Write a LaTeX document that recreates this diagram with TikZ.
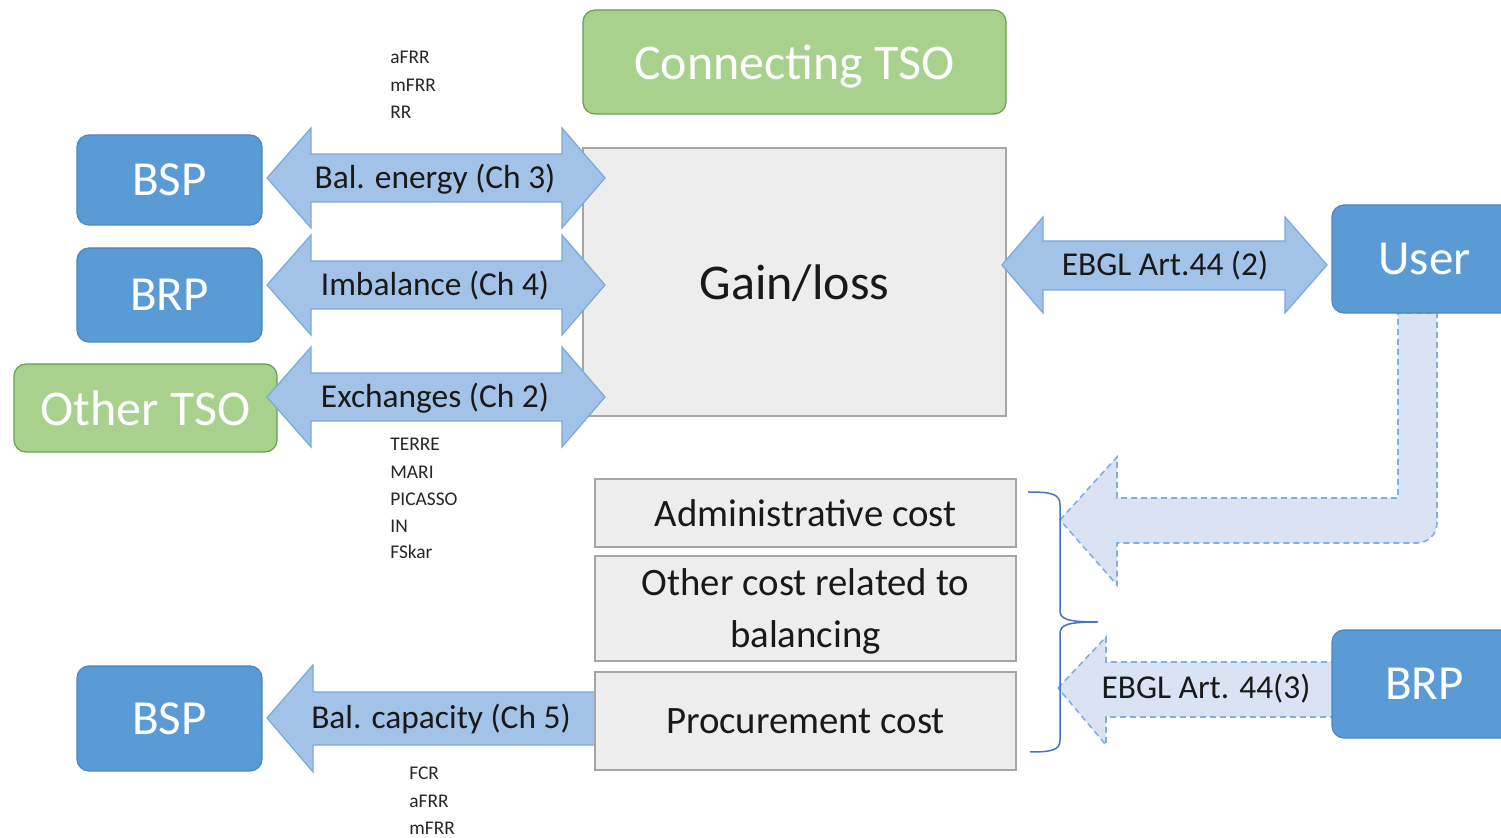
\documentclass[tikz,border=0pt]{standalone}
\usepackage{fontspec}
\setmainfont{Carlito}
\definecolor{boxblue}{HTML}{5B9BD5}
\definecolor{boxblueline}{HTML}{4A86C2}
\definecolor{boxgreen}{HTML}{A9D18E}
\definecolor{boxgreenline}{HTML}{6A9E4A}
\definecolor{boxgray}{HTML}{EDEDED}
\definecolor{grayline}{HTML}{A6A6A6}
\definecolor{arrowblue}{HTML}{A3C2E8}
\definecolor{arrowline}{HTML}{7AA8DB}
\definecolor{lightfill}{HTML}{DAE3F3}
\definecolor{dashline}{HTML}{7FB0E2}
\definecolor{bracecol}{HTML}{4472C4}
\begin{document}
\begin{tikzpicture}[x=0.5pt,y=-0.5pt,
  bluebox/.style={rectangle, rounded corners=6pt, fill=boxblue, draw=boxblueline, line width=0.6pt, text=white, font=\fontsize{24.5}{28}\selectfont},
  greenbox/.style={rectangle, rounded corners=6pt, fill=boxgreen, draw=boxgreenline, line width=0.6pt, text=white, font=\fontsize{25}{28}\selectfont},
  graybox/.style={rectangle, fill=boxgray, draw=grayline, line width=1pt, text=black!90, font=\fontsize{19.4}{26}\selectfont, align=center},
  blockarrow/.style={fill=arrowblue, draw=arrowline, line width=0.6pt},
  dasharrow/.style={fill=lightfill, draw=dashline, line width=0.8pt, dash pattern=on 3pt off 2pt},
  lbl/.style={font=\fontsize{16.7}{20}\selectfont, text=black!90, inner sep=0pt},
  smalltxt/.style={font=\fontsize{9.7}{12}\selectfont, text=black!85, anchor=west, inner sep=0pt},
  bracestyle/.style={draw=bracecol, line width=0.75pt}
]
\useasboundingbox (0,0) rectangle (1501,838);
\fill[white] (0,0) rectangle (1501,838);

% top green box
\node[greenbox, minimum width=211.5pt, minimum height=52pt, text depth=0pt] (ctso) at (794.5,62) {Connecting TSO};

% gain/loss box
\node[graybox, minimum width=211.5pt, minimum height=134pt, font=\fontsize{25}{28}\selectfont, text depth=0pt] (gain) at (794.5,282) {Gain/loss};

% left boxes
\node[bluebox, minimum width=92.5pt, minimum height=45pt] (bsp1) at (169.5,180) {BSP};
\node[bluebox, minimum width=92.5pt, minimum height=47pt] (brp1) at (169.5,295) {BRP};
\node[greenbox, minimum width=131.5pt, minimum height=44pt] (otso) at (145.5,408) {Other TSO};
\node[bluebox, minimum width=92.5pt, minimum height=52.5pt] (bsp2) at (169.5,718.5) {BSP};

% double arrows left
\foreach \c/\t/\n in {178/{Bal. energy (Ch 3)}/a1, 285/{Imbalance (Ch 4)}/a2, 397/{Exchanges (Ch 2)}/a3}{
  \draw[blockarrow] (267,\c) -- (311,\c-50) -- (311,\c-24) -- (562,\c-24) -- (562,\c-50) -- (605,\c)
     -- (562,\c+50) -- (562,\c+24) -- (311,\c+24) -- (311,\c+50) -- cycle;
  \node[lbl] (\n) at (435,\c+1) {\t};
}

% double arrow right (EBGL Art.44 (2))
\draw[blockarrow] (1002,265) -- (1043,217) -- (1043,241) -- (1285,241) -- (1285,217) -- (1327,265)
   -- (1285,313) -- (1285,290) -- (1043,290) -- (1043,313) -- cycle;
\node[lbl] (ebgl2) at (1165,266) {EBGL Art.44 (2)};

% bent dashed arrow from User
\draw[dasharrow] (1060,520) -- (1117,457) -- (1117,498) -- (1398,498) -- (1398,313) -- (1437,313)
   -- (1437,523) .. controls (1437,534) and (1428,543) .. (1417,543) -- (1117,543) -- (1117,585) -- cycle;

% dashed arrow from BRP right
\draw[dasharrow] (1058,688) -- (1106,637) -- (1106,662) -- (1336,662) -- (1336,717) -- (1106,717) -- (1106,745) -- cycle;
\node[lbl] (ebgl3) at (1206,689) {EBGL Art. 44(3)};

% right boxes
\node[bluebox, minimum width=92.5pt, minimum height=54pt] (user) at (1424.5,259) {User};
\node[bluebox, minimum width=92.5pt, minimum height=54pt] (brp2) at (1424.5,684) {BRP};

% bal capacity arrow
\draw[blockarrow] (267,718) -- (313,665) -- (313,692) -- (597,692) -- (597,745) -- (313,745) -- (313,772) -- cycle;
\node[lbl] (balcap) at (441,719) {Bal. capacity (Ch 5)};

% cost boxes
\node[graybox, minimum width=210.5pt, minimum height=34pt] (admin) at (805.5,513) {Administrative cost};
\node[graybox, minimum width=210.5pt, minimum height=52.5pt, text depth=0pt] (other) at (805.5,608.5) {Other cost related to\\balancing};
\node[graybox, minimum width=210.5pt, minimum height=49pt] (proc) at (805.5,721) {Procurement cost};

% brace
\draw[bracestyle] (1028,492) .. controls (1052,492) and (1060,494) .. (1060,505) -- (1060,610)
   .. controls (1060,619) and (1066,622) .. (1098,622)
   .. controls (1066,622) and (1060,625) .. (1060,634) -- (1060,740)
   .. controls (1060,750) and (1052,752) .. (1030,752);

% small texts
\node[smalltxt] (s1) at (390,57) {aFRR};
\node[smalltxt] (s2) at (390,85) {mFRR};
\node[smalltxt] (s3) at (390,112) {RR};
\node[smalltxt] (s4) at (390,444) {TERRE};
\node[smalltxt] (s5) at (390,472) {MARI};
\node[smalltxt] (s6) at (390,499) {PICASSO};
\node[smalltxt] (s7) at (390,526) {IN};
\node[smalltxt] (s8) at (390,552) {FSkar};
\node[smalltxt] (s9) at (409,773) {FCR};
\node[smalltxt] (s10) at (409,801) {aFRR};
\node[smalltxt] (s11) at (409,828) {mFRR};
\end{tikzpicture}
\end{document}
